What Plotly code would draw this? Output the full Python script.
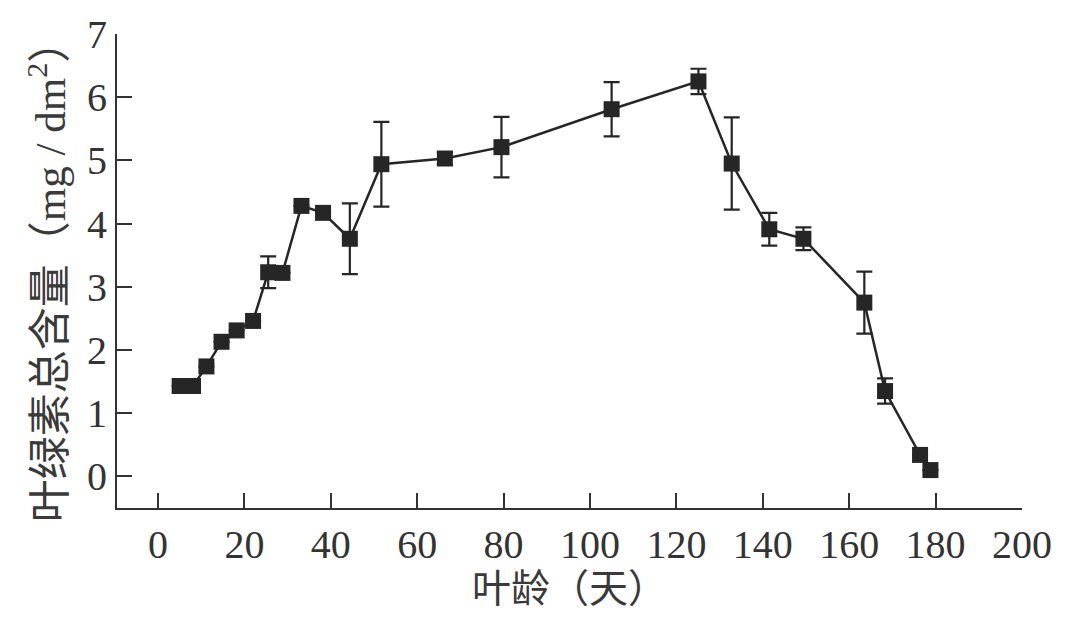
import plotly.graph_objects as go

# Leaf age (days)
leaf_age = [5.0, 8.1, 11.2, 14.7, 18.2, 22.0, 25.5, 28.8, 33.2, 38.2, 44.4,
            51.7, 66.4, 79.5, 105.0, 125.1, 132.8, 141.5, 149.4, 163.5, 168.3,
            176.4, 178.8]
# Total chlorophyll content (mg/dm^2)
chlorophyll = [1.43, 1.43, 1.74, 2.13, 2.31, 2.46, 3.23, 3.22, 4.28, 4.17, 3.76,
               4.94, 5.03, 5.21, 5.81, 6.25, 4.95, 3.91, 3.76, 2.75, 1.35,
               0.34, 0.10]
# Error (±)
chl_error = [0.0, 0.0, 0.0, 0.0, 0.0, 0.0, 0.25, 0.0, 0.0, 0.0, 0.56,
             0.67, 0.10, 0.48, 0.43, 0.20, 0.73, 0.26, 0.18, 0.49, 0.20,
             0.0, 0.0]

x_ticks = [0, 20, 40, 60, 80, 100, 120, 140, 160, 180, 200]
y_ticks = [0, 1, 2, 3, 4, 5, 6, 7]

x_title = "叶龄（天）"
y_title = "叶绿素总含量（mg / dm<sup>2</sup>）"

ink = "#262626"
tick_font = dict(family="Liberation Serif, Times New Roman, serif", size=40, color="#333333")
x_title_font = dict(family="Liberation Serif, Noto Sans CJK SC, serif", size=39, color="#3a3a3a")
y_title_font = dict(family="Liberation Serif, Noto Sans CJK SC, serif", size=43, color="#3a3a3a")

fig = go.Figure()
fig.add_trace(go.Scatter(
    x=leaf_age,
    y=chlorophyll,
    mode="lines+markers",
    line=dict(color=ink, width=2.5),
    marker=dict(symbol="square", size=16, color=ink),
    error_y=dict(type="data", array=chl_error, visible=True,
                 color=ink, thickness=2.2, width=8),
    cliponaxis=False,
    showlegend=False,
))

fig.update_layout(
    width=1073,
    height=620,
    margin=dict(l=117, r=51, t=25, b=112),
    paper_bgcolor="white",
    plot_bgcolor="white",
    xaxis=dict(
        range=[-9.5, 200],
        tickmode="array",
        tickvals=x_ticks,
        ticktext=[str(v) for v in x_ticks],
        ticks="inside",
        ticklen=15,
        tickwidth=2,
        tickcolor="#333333",
        showline=True,
        linecolor="#333333",
        linewidth=2,
        showgrid=False,
        zeroline=False,
        tickfont=tick_font,
        title=dict(text=x_title, font=x_title_font, standoff=6),
    ),
    yaxis=dict(
        range=[-0.5, 7],
        tickmode="array",
        tickvals=y_ticks,
        ticktext=[str(v) for v in y_ticks],
        ticks="inside",
        ticklen=15,
        tickwidth=2,
        tickcolor="#333333",
        showline=True,
        linecolor="#333333",
        linewidth=2,
        showgrid=False,
        zeroline=False,
        tickfont=tick_font,
        title=dict(text=y_title, font=y_title_font, standoff=8),
    ),
)

fig.write_html("out.html")
